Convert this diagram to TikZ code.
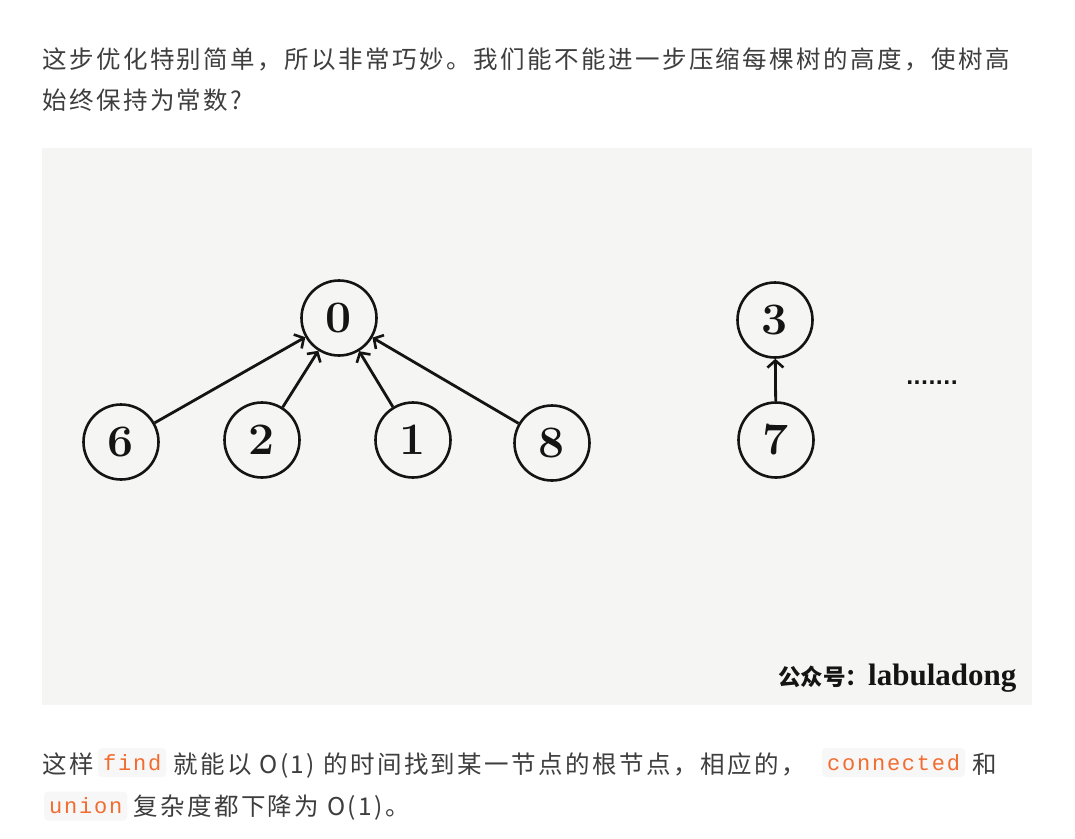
\documentclass[tikz,border=0pt]{standalone}
\usepackage{fontspec}
\usepackage{graphicx}
\usetikzlibrary{arrows.meta}
\newfontfamily\cjk[LetterSpace=10]{Noto Sans CJK SC}
\newfontfamily\cjkw{Noto Sans CJK SC}
\newfontfamily\codefont[LetterSpace=8]{Liberation Mono}
\newfontfamily\wmserif{Liberation Serif}
\newfontfamily\dotfont{DejaVu Sans}
\definecolor{txt}{RGB}{62,62,62}
\definecolor{codefg}{RGB}{242,108,48}
\definecolor{codebg}{RGB}{247,247,247}
\definecolor{imgbg}{RGB}{245,245,244}
\definecolor{ink}{RGB}{20,20,20}
\newcommand{\dgwide}[1]{\scalebox{1.03}[1]{#1}}
\begin{document}
\begin{tikzpicture}[x=1pt,y=-1pt,
  body/.style={anchor=base west, inner sep=0pt, text=txt, font=\cjk\fontsize{24.5}{30}\selectfont},
  code/.style={anchor=west, fill=codebg, rounded corners=4pt, inner xsep=5pt, inner ysep=0pt, minimum height=29pt, text=codefg, font=\codefont\fontsize{22}{26}\selectfont},
  vert/.style={circle, draw=ink, text=ink, line width=2.6pt, minimum size=75pt, inner sep=0pt, font=\bfseries\fontsize{45}{45}\selectfont},
  arr/.style={draw=ink, line width=2.8pt, -{Straight Barb[length=7pt,width=16pt,line width=2.6pt]}}
]
\useasboundingbox (0,0) rectangle (1075,838);
\fill[white] (0,0) rectangle (1075,838);
\fill[imgbg] (42,148) rectangle (1032,705);

% top paragraph
\node[body] (t1) at (42,68) {这步优化特别简单，所以非常巧妙。我们能不能进一步压缩每棵树的高度，使树高};
\node[body] (t2) at (42,109) {始终保持为常数?};

% tree
\node[vert] (n0) at (339,318) {\dgwide{0}};
\node[vert] (n6) at (121,442) {\dgwide{6}};
\node[vert] (n2) at (262,440) {\dgwide{2}};
\node[vert] (n1) at (413,440) {\dgwide{1}};
\node[vert] (n8) at (552,443) {\dgwide{8}};
\node[vert] (n3) at (775,320) {\dgwide{3}};
\node[vert] (n7) at (776,440) {\dgwide{7}};
\draw[arr] (n6) -- (n0);
\draw[arr] (n2) -- (n0);
\draw[arr] (n1) -- (n0);
\draw[arr] (n8) -- (n0);
\draw[arr] (n7) -- (n3);
\node[font=\dotfont\bfseries\fontsize{19.5}{20}\selectfont, text=ink, inner sep=0pt] (dots) at (932,383) {.......};

% watermark
\node[anchor=base west, inner sep=0pt, text=ink] (wm) at (778,685)
  {{\cjkw\bfseries\fontsize{22.5}{26}\selectfont 公众号：}{\wmserif\bfseries\fontsize{31}{34}\selectfont labuladong}};

% bottom paragraph
\node[body] (b1) at (42,773) {这样};
\node[code] (c1) at (98,762.5) {find};
\node[body] (b2) at (173,773) {就能以 O(1) 的时间找到某一节点的根节点，相应的，};
\node[code] (c2) at (822,762.5) {connected};
\node[body] (b3) at (972,773) {和};
\node[code] (c3) at (44,806) {union};
\node[body] (b4) at (133,815) {复杂度都下降为 O(1)。};
\end{tikzpicture}
\end{document}
